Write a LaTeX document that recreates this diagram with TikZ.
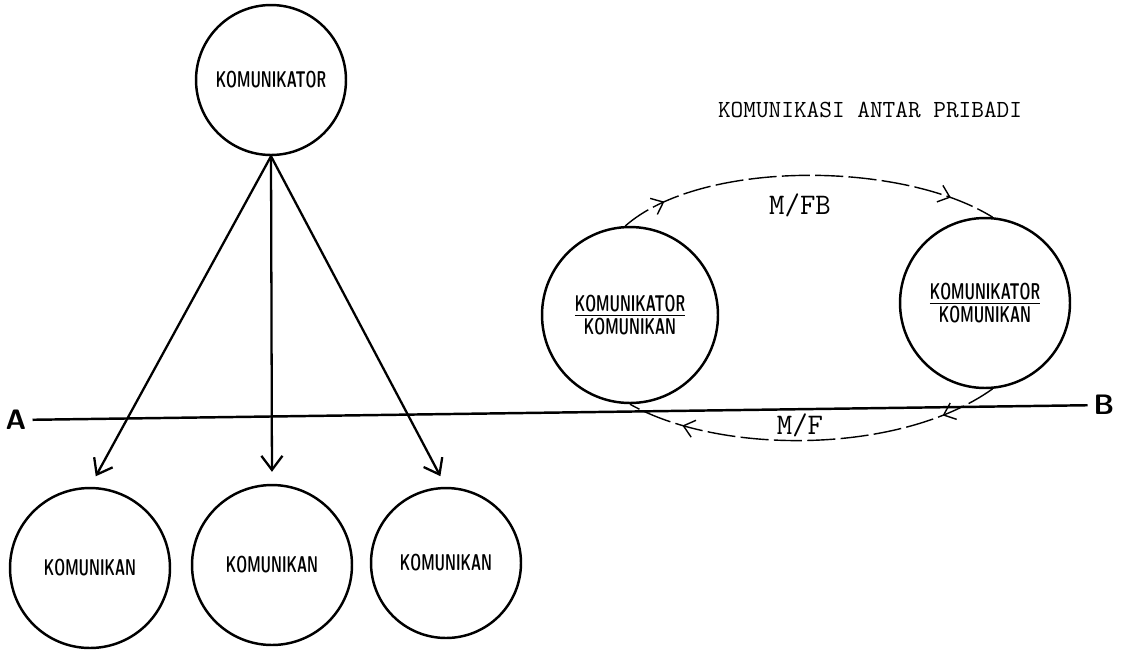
\documentclass[tikz,border=0pt]{standalone}
\usepackage{amsmath}
\usepackage{tikz}
\usetikzlibrary{arrows.meta,decorations.markings}

\newcommand{\lbl}[1]{\scalebox{0.6}[1]{\fontsize{13}{15}\selectfont\sffamily\bfseries #1}}

\begin{document}
\begin{tikzpicture}[x=0.02cm,y=-0.02cm,
    orang/.style={circle,draw,line width=1.4pt,inner sep=0pt},
    panah/.style={-{Straight Barb[length=8pt,width=12pt]},line width=1.3pt,shorten >=0.24cm},
    pesan/.style={line width=0.8pt,dash pattern=on 16pt off 3pt,postaction={decorate}},
    tanda/.style={font=\fontsize{17}{19}\selectfont\ttfamily}]
    \useasboundingbox (0,0) rectangle (1121,650);
    % komunikasi massa
    \node[orang,minimum size=3cm] (kator) at (271,80) {\lbl{KOMUNIKATOR}};
    \node[orang,minimum size=3.2cm] (kan1) at (90,568) {\lbl{KOMUNIKAN}};
    \node[orang,minimum size=3.2cm] (kan2) at (272,565) {\lbl{KOMUNIKAN}};
    \node[orang,minimum size=3cm] (kan3) at (446,563) {\lbl{KOMUNIKAN}};
    \draw[panah] (kator.south) -- (kan1.north);
    \draw[panah] (kator.south) -- (kan2.north);
    \draw[panah] (kator.south) -- (kan3.north);
    % komunikasi antar pribadi
    \node[font=\fontsize{14}{16}\selectfont\ttfamily] (judul) at (870,110) {KOMUNIKASI ANTAR PRIBADI};
    \node[orang,minimum size=3.52cm,align=center] (kiri) at (630,315)
        {\lbl{\underline{KOMUNIKATOR}}\\[1pt]\lbl{KOMUNIKAN}};
    \node[orang,minimum size=3.4cm,align=center] (kanan) at (985,303)
        {\lbl{\underline{KOMUNIKATOR}}\\[1pt]\lbl{KOMUNIKAN}};
    \draw[pesan,decoration={markings,
        mark=at position 0.12 with {\arrow{Straight Barb[length=6pt,width=10pt]}},
        mark=at position 0.88 with {\arrow{Straight Barb[length=6pt,width=10pt]}}}]
        (kiri.93) .. controls (700,160) and (900,160) .. (kanan.85);
    \draw[pesan,decoration={markings,
        mark=at position 0.15 with {\arrow{Straight Barb[length=6pt,width=10pt]}},
        mark=at position 0.85 with {\arrow{Straight Barb[length=6pt,width=10pt]}}}]
        (kanan.-85) .. controls (900,455) and (720,455) .. (kiri.-90);
    \node[tanda] (mfb) at (800,205) {M/FB};
    \node[tanda] (mf) at (800,425) {M/F};
    % garis A - B
    \node[font=\fontsize{16}{18}\selectfont\sffamily\bfseries] (A) at (16,420) {A};
    \node[font=\fontsize{16}{18}\selectfont\sffamily\bfseries] (B) at (1104,405) {B};
    \draw[line width=1.4pt] (A) -- (B);
\end{tikzpicture}
\end{document}
